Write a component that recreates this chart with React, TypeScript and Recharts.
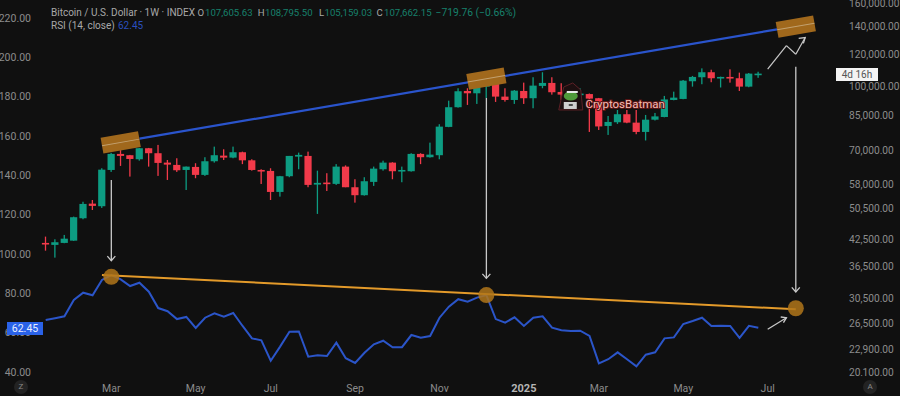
import React from "react";
import { ComposedChart, Bar, Line, XAxis, YAxis, ReferenceLine, ReferenceDot } from "recharts";

const FONT = "Roboto, 'Noto Sans', sans-serif";
const BG = "#101010";
const GREEN = "#0d9c82";
const RED = "#f23a4a";
const AXIS_TEXT = "#8c8c8c";
const WHITE_LINE = "#c9c9c9";

const weeks = [
  "2024-01-15","2024-01-22","2024-01-29","2024-02-05","2024-02-12","2024-02-19","2024-02-26",
  "2024-03-04","2024-03-11","2024-03-18","2024-03-25","2024-04-01","2024-04-08","2024-04-15","2024-04-22","2024-04-29",
  "2024-05-06","2024-05-13","2024-05-20","2024-05-27","2024-06-03","2024-06-10","2024-06-17","2024-06-24",
  "2024-07-01","2024-07-08","2024-07-15","2024-07-22","2024-07-29","2024-08-05","2024-08-12","2024-08-19","2024-08-26",
  "2024-09-02","2024-09-09","2024-09-16","2024-09-23","2024-09-30","2024-10-07","2024-10-14","2024-10-21","2024-10-28",
  "2024-11-04","2024-11-11","2024-11-18","2024-11-25","2024-12-02","2024-12-09","2024-12-16","2024-12-23","2024-12-30",
  "2025-01-06","2025-01-13","2025-01-20","2025-01-27","2025-02-03","2025-02-10","2025-02-17","2025-02-24",
  "2025-03-03","2025-03-10","2025-03-17","2025-03-24","2025-03-31","2025-04-07","2025-04-14","2025-04-21","2025-04-28",
  "2025-05-05","2025-05-12","2025-05-19","2025-05-26","2025-06-02","2025-06-09","2025-06-16","2025-06-23","2025-06-30",
  "2025-07-07","2025-07-14","2025-07-21","2025-07-28","2025-08-04","2025-08-11","2025-08-18","2025-08-25",
];

const opens = [
  41660,41200,41660,42190,47840,51930,51180,62720,68630,68130,66600,70850,68900,65360,64520,62720,
  63800,61010,65860,67970,67220,69280,66210,62720,62380,55450,60560,67590,67860,57780,58440,58010,
  63910,56930,54440,58660,62970,65360,62380,62280,68630,67370,68130,79850,89170,97690,96420,100090,
  103890,94640,92870,97690,93790,100490,102190,97150,94480,95700,96000,93790,80280,81970,85740,81790,
  77630,83150,84420,92870,93410,103150,105500,108500,105080,105680,104910,100090,107605,
];
const highs = [
  43160,42520,43570,48280,52480,53000,63330,69020,72180,68250,70970,70970,72180,66330,66980,63950,
  65140,67370,71490,70440,71490,69510,66600,62970,63330,60670,67860,69130,69510,62480,61590,64810,
  64350,59540,60220,63910,66080,65500,63910,68900,68900,73110,81070,92510,99180,99180,102020,105860,
  105860,99180,98220,102360,105500,108500,105500,102020,99350,99180,96300,93940,84900,87800,87800,87800,
  85390,86360,95010,97310,103890,106280,110890,110050,105860,110290,108260,108040,108795,
];
const lows = [
  39890,38360,41590,42150,47570,50110,50690,62040,64160,60430,66080,63910,60670,59300,62040,56060,
  59880,60670,65360,66330,66980,64810,62480,57980,53000,54010,60220,62970,56930,49020,55750,57680,
  56930,52220,54320,57360,62480,59540,58550,62140,64810,67220,66600,79720,88970,90330,90840,93940,
  91850,92010,90840,90840,88660,99180,95700,92870,92870,92870,77630,78490,76340,81200,81520,76640,
  74000,82790,84270,92710,93250,100090,101450,102590,99610,102360,97680,99750,105159,
];
const closes = [
  41430,41820,42660,48120,51840,51270,62830,68630,67860,66710,70850,68900,65250,64630,62620,63910,
  61010,65860,68130,67220,69280,66210,62720,62380,55450,60560,67860,68250,57680,58340,58010,63910,
  56930,54440,58880,63190,65360,62280,62720,68630,67370,68360,79980,89170,97530,96420,100090,103890,
  94640,92870,97850,93790,100660,102190,96990,95700,96080,96260,93570,80060,82110,85740,81790,77630,
  83150,84700,93140,94100,103490,105680,108500,104910,105680,105080,100090,107660,107662,
];
const rsi = [
  66.4,67.3,68.3,76.6,80.3,79.0,86.8,89.3,87.1,83.7,85.4,80.8,72.5,70.9,66.9,68.0,
  62.4,67.6,69.8,68.1,70.0,63.4,57.1,56.1,45.7,52.9,60.5,60.6,47.8,48.5,48.1,54.9,
  47.0,44.6,49.8,54.1,55.9,52.6,52.6,58.8,57.4,58.3,67.6,73.2,77.0,75.7,77.8,79.1,
  66.9,65.1,67.8,63.4,67.6,68.3,62.5,61.2,60.8,61.0,58.3,44.4,46.5,50.0,46.5,42.9,
  48.8,50.0,57.1,57.6,64.4,65.9,67.6,63.4,63.5,63.4,57.3,63.5,62.45,
];

const leftTicks = [40, 60, 80, 100, 120, 140, 160, 180, 200, 220];
const rightTicks = [20100, 22900, 26500, 30500, 36500, 42500, 50500, 58000, 70000, 85000, 100000, 120000, 140000, 160000];
const monthTickWeeks = ["2024-03-04","2024-05-06","2024-07-01","2024-09-02","2024-11-04","2025-01-06","2025-03-03","2025-05-05","2025-07-07"];
const monthTickLabels = ["Mar","May","Jul","Sep","Nov","2025","Mar","May","Jul"];

// annotations: [week index, RSI-axis value]
const blueTrend = [[10, 158.6], [78, 214.2]];
const orangeTrend = [[6, 89.3], [80, 71.9]];
const amberCircles = [[7, 88.4], [47, 79.1], [80, 72.4]];
const bandBoxes = [[8, 156.7], [47, 189.1], [80, 215.6]];
const downArrows = [
  [7, 137.6, 96.6],
  [47, 179.3, 87.6],
  [80, 195.2, 80.7],
];
const zigzag = [[77, 194.0], [79, 205.9], [80, 201.5], [81, 210.0]];
const smallArrow = [[77, 61.7], [79, 67.6]];

const rows = weeks.map((week, i) => {
  const o = opens[i];
  if (o === undefined) return { week, rsi: null };
  const c = closes[i];
  return {
    week,
    open: o,
    close: c,
    wick: [lows[i], highs[i]],
    body: [Math.min(o, c), Math.max(o, c)],
    rsi: rsi[i],
  };
});

const Wick = (p: any) => {
  if (!p.payload || p.payload.open === undefined) return <g />;
  const fill = p.payload.close >= p.payload.open ? GREEN : RED;
  return <rect x={p.x + p.width / 2 - 0.65} y={p.y} width={1.3} height={p.height} fill={fill} />;
};
const Body = (p: any) => {
  if (!p.payload || p.payload.open === undefined) return <g />;
  const fill = p.payload.close >= p.payload.open ? GREEN : RED;
  const h = Math.max(p.height, 1.6);
  return <rect x={p.x + p.width / 2 - 3.6} y={p.y} width={7.2} height={h} fill={fill} />;
};

const BandBox = (p: any) => (
  <g transform={`translate(${p.cx} ${p.cy}) rotate(-10)`}>
    <rect x={-19} y={-8} width={38} height={16} fill="#a0681c" />
    <line x1={-19} x2={19} y1={0} y2={0} stroke="#d9c6a6" strokeOpacity={0.6} strokeWidth={1} />
  </g>
);

const Chevron = (p: any, a: number[], b: number[]) => (
  <path
    d={`M${p.cx + a[0]} ${p.cy + a[1]} L${p.cx} ${p.cy} L${p.cx + b[0]} ${p.cy + b[1]}`}
    fill="none"
    stroke={WHITE_LINE}
    strokeWidth={1.3}
  />
);

const Watermark = (p: any) => (
  <text
    x={p.cx - 4}
    y={p.cy + 4}
    fontFamily={FONT}
    fontSize={11.5}
    fill="#f3bdb5"
    stroke="#5a1414"
    strokeWidth={2}
    paintOrder="stroke"
  >
    CryptosBatman
  </text>
);

const Sticker = (p: any) => (
  <g transform={`translate(${p.cx} ${p.cy})`}>
    <path d="M-12 13 L-7 -10 L2 -14 L10 -7 L12 13 Z" fill="#1c0f10" stroke="#5c2026" strokeWidth={1} />
    <ellipse cx={0} cy={-1} rx={7} ry={4.5} fill="#4f9a3a" />
    <rect x={-4} y={-6} width={11} height={2} fill="#e8e8e8" />
    <rect x={-7} y={5} width={13} height={7} fill="#cfcfcf" />
    <rect x={-2} y={7} width={4} height={2} fill="#4a4a4a" />
  </g>
);

const MonthTick = (p: any) => {
  const idx = monthTickWeeks.indexOf(p.payload.value);
  const label = monthTickLabels[idx];
  const bold = label === "2025";
  return (
    <text
      x={p.x}
      y={p.y}
      dy={4}
      textAnchor="middle"
      fontFamily={FONT}
      fontSize={bold ? 11 : 10.5}
      fontWeight={bold ? 700 : 400}
      fill={bold ? "#b5b5b5" : AXIS_TEXT}
    >
      {label}
    </text>
  );
};

const Seg = (a: number[], b: number[], stroke: string, width: number) => (
  <ReferenceLine
    xAxisId="body"
    yAxisId="rsi"
    stroke={stroke}
    strokeWidth={width}
    segment={[
      { x: weeks[a[0]], y: a[1] },
      { x: weeks[b[0]], y: b[1] },
    ]}
  />
);

const AbsText = ({ x, y, color, size = 9.6, children }: any) => (
  <div
    style={{
      position: "absolute",
      left: x,
      top: y,
      color,
      fontSize: size,
      lineHeight: "13px",
      fontFamily: FONT,
      whiteSpace: "nowrap",
    }}
  >
    {children}
  </div>
);

const Round = ({ x, y, t }: any) => (
  <div
    style={{
      position: "absolute",
      left: x - 7,
      top: y - 7,
      width: 14,
      height: 14,
      borderRadius: 7,
      background: "#232323",
      color: "#8a8a8a",
      fontSize: 8,
      fontFamily: FONT,
      lineHeight: "14px",
      textAlign: "center",
    }}
  >
    {t}
  </div>
);

const HEAD_GREEN = "#17806c";
const HEAD_TEXT = "#a8a8a8";

export default function App() {
  return (
    <div style={{ position: "fixed", left: 0, top: 0, width: 900, height: 396, background: BG, overflow: "hidden" }}>
      <ComposedChart
        width={900}
        height={396}
        data={rows}
        margin={{ top: 0, right: 0, bottom: 0, left: 0 }}
        barGap={0}
        barCategoryGap={0}
      >
        <XAxis
          xAxisId="body"
          dataKey="week"
          ticks={monthTickWeeks}
          tick={<MonthTick />}
          interval={0}
          height={18}
          axisLine={false}
          tickLine={false}
          tickMargin={4}
        />
        <XAxis xAxisId="wick" dataKey="week" hide />
        <YAxis
          yAxisId="rsi"
          orientation="left"
          width={41}
          type="number"
          domain={[36.95, 229.1]}
          ticks={leftTicks}
          interval={0}
          allowDataOverflow
          axisLine={false}
          tickLine={false}
          tickMargin={4}
          tick={{ fill: AXIS_TEXT, fontSize: 10.5, fontFamily: FONT }}
          tickFormatter={(v: number) => v.toFixed(2)}
        />
        <YAxis
          yAxisId="price"
          orientation="right"
          width={62}
          type="number"
          scale="log"
          domain={[19530, 162700]}
          ticks={rightTicks}
          interval={0}
          allowDataOverflow
          axisLine={false}
          tickLine={false}
          tickMargin={5}
          tick={{ fill: AXIS_TEXT, fontSize: 10.2, fontFamily: FONT }}
          tickFormatter={(v: number) =>
            v.toLocaleString("en-US", { minimumFractionDigits: 2, maximumFractionDigits: 2 })
          }
        />

        <Bar xAxisId="wick" yAxisId="price" dataKey="wick" shape={Wick} isAnimationActive={false} legendType="none" />
        <Bar xAxisId="body" yAxisId="price" dataKey="body" shape={Body} isAnimationActive={false} legendType="none" />

        {amberCircles.map((c) => (
          <ReferenceDot
            key={c[0]}
            xAxisId="body"
            yAxisId="rsi"
            x={weeks[c[0]]}
            y={c[1]}
            r={8}
            fill="#b0761a"
            fillOpacity={0.85}
            stroke="none"
          />
        ))}

        <Line
          xAxisId="body"
          yAxisId="rsi"
          dataKey="rsi"
          stroke="#2b55c9"
          strokeWidth={2}
          dot={false}
          isAnimationActive={false}
          connectNulls={false}
        />

        {Seg(blueTrend[0], blueTrend[1], "#2a54cc", 2.2)}
        {Seg(orangeTrend[0], orangeTrend[1], "#e39a2a", 2)}

        {bandBoxes.map((b) => (
          <ReferenceDot key={b[0]} xAxisId="body" yAxisId="rsi" x={weeks[b[0]]} y={b[1]} shape={BandBox} />
        ))}

        {downArrows.map((a) => Seg([a[0], a[1]], [a[0], a[2]], WHITE_LINE, 1.3))}
        {downArrows.map((a) => (
          <ReferenceDot
            key={"h" + a[0]}
            xAxisId="body"
            yAxisId="rsi"
            x={weeks[a[0]]}
            y={a[2]}
            shape={(p: any) => Chevron(p, [-4, -4.5], [4, -4.5])}
          />
        ))}

        {Seg(zigzag[0], zigzag[1], WHITE_LINE, 1.2)}
        {Seg(zigzag[1], zigzag[2], WHITE_LINE, 1.2)}
        {Seg(zigzag[2], zigzag[3], WHITE_LINE, 1.2)}
        <ReferenceDot
          xAxisId="body"
          yAxisId="rsi"
          x={weeks[zigzag[3][0]]}
          y={zigzag[3][1]}
          shape={(p: any) => Chevron(p, [-6.5, 0.8], [-1.8, 5.8])}
        />
        {Seg(smallArrow[0], smallArrow[1], WHITE_LINE, 1.2)}
        <ReferenceDot
          xAxisId="body"
          yAxisId="rsi"
          x={weeks[smallArrow[1][0]]}
          y={smallArrow[1][1]}
          shape={(p: any) => Chevron(p, [-5.7, -0.7], [-3, 5])}
        />

        <ReferenceDot xAxisId="body" yAxisId="rsi" x={weeks[56]} y={179.8} shape={Sticker} />
        <ReferenceDot xAxisId="body" yAxisId="rsi" x={weeks[58]} y={176.3} shape={Watermark} />
      </ComposedChart>

      <div style={{ position: "absolute", left: 838, top: 376, width: 62, height: 20, background: BG }} />
      <Round x={21} y={387} t="Z" />
      <Round x={870} y={387} t="A" />

      <AbsText x={51} y={6} color={HEAD_TEXT} size={10}>Bitcoin / U.S. Dollar · 1W · INDEX</AbsText>
      <AbsText x={197.5} y={6} color={HEAD_TEXT}>O</AbsText>
      <AbsText x={205} y={6} color={HEAD_GREEN}>107,605.63</AbsText>
      <AbsText x={257.7} y={6} color={HEAD_TEXT}>H</AbsText>
      <AbsText x={265} y={6} color={HEAD_GREEN}>108,795.50</AbsText>
      <AbsText x={319} y={6} color={HEAD_TEXT}>L</AbsText>
      <AbsText x={324.5} y={6} color={HEAD_GREEN}>105,159.03</AbsText>
      <AbsText x={376.5} y={6} color={HEAD_TEXT}>C</AbsText>
      <AbsText x={384} y={6} color={HEAD_GREEN}>107,662.15</AbsText>
      <AbsText x={435.5} y={6} color={HEAD_GREEN} size={10.3}>−719.76 (−0.66%)</AbsText>
      <AbsText x={51} y={19} color={HEAD_TEXT} size={10}>RSI (14, close)</AbsText>
      <AbsText x={118} y={19} color="#2a4fbf" size={10}>62.45</AbsText>

      <div
        style={{
          position: "absolute",
          left: 836,
          top: 68,
          width: 42,
          height: 13,
          background: "#f4f4f4",
          color: "#555",
          fontFamily: FONT,
          fontSize: 10,
          lineHeight: "13px",
          textAlign: "center",
        }}
      >
        4d 16h
      </div>
      <div
        style={{
          position: "absolute",
          left: 7,
          top: 322,
          width: 36,
          height: 13,
          background: "#2a62e8",
          color: "#e8eeff",
          fontFamily: FONT,
          fontSize: 10.5,
          lineHeight: "13px",
          textAlign: "center",
        }}
      >
        62.45
      </div>
    </div>
  );
}
